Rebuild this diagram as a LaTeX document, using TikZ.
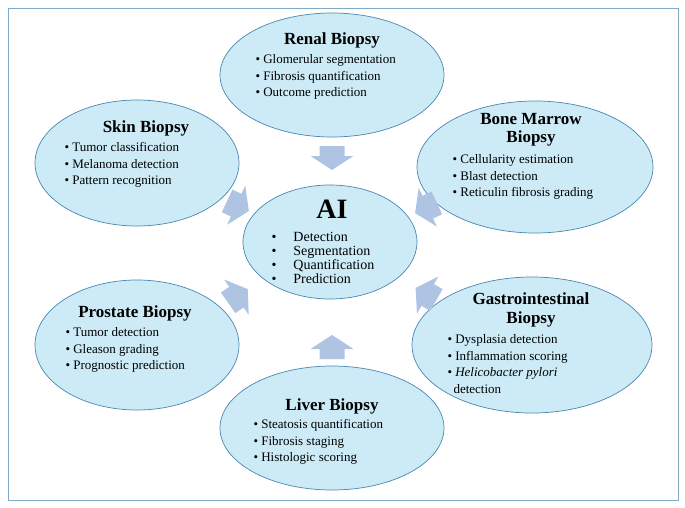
\documentclass[tikz,border=0pt]{standalone}
\usepackage{fontspec}
\setmainfont{Liberation Serif}
\definecolor{fillb}{HTML}{CCEBF7}
\definecolor{lineb}{HTML}{4A86B0}
\definecolor{arr}{HTML}{AFC4E2}
\begin{document}
\begin{tikzpicture}[x=1pt,y=-1pt,
 ell/.style={draw=lineb,fill=fillb,line width=0.7pt},
 ttl/.style={font=\bfseries\fontsize{17}{18.5}\selectfont,align=center},
 lst/.style={font=\fontsize{13}{16.5}\selectfont,align=left},
 bar/.pic={\fill[arr] (-12,-12.5) -- (-2,-12.5) -- (-2,-21.5) -- (12,0) -- (-2,21.5) -- (-2,12.5) -- (-12,12.5) -- cycle;}]
\useasboundingbox (0,0) rectangle (685,508);
\node[draw=lineb!70,line width=0.6pt,minimum width=670pt,minimum height=492pt,inner sep=0pt] (frame) at (343,254) {};
% ellipses
\draw[ell] (332,75) ellipse (112 and 62);
\draw[ell] (137,163) ellipse (102 and 63);
\draw[ell] (535,167) ellipse (118 and 66);
\draw[ell] (330,242) ellipse (87 and 57);
\draw[ell] (137,345) ellipse (102 and 65);
\draw[ell] (532,345) ellipse (120 and 68);
\draw[ell] (332,428) ellipse (112 and 62);
% arrows
\pic[rotate=-90] at (332,158) {bar};
\pic[rotate=90] at (332,347) {bar};
\pic[rotate=-25] at (238,206) {bar};
\pic[rotate=35] at (238,296) {bar};
\pic[rotate=-155] at (426,208) {bar};
\pic[rotate=150] at (426,294) {bar};
% texts
\node[ttl] (t1) at (332,40) {Renal Biopsy};
\node[lst,anchor=north west] (l1) at (252,51) {\textbullet{} Glomerular segmentation\\\textbullet{} Fibrosis quantification\\\textbullet{} Outcome prediction};
\node[ttl] (t2) at (146,128) {Skin Biopsy};
\node[lst,anchor=north west] (l2) at (61,139) {\textbullet{} Tumor classification\\\textbullet{} Melanoma detection\\\textbullet{} Pattern recognition};
\node[ttl] (t3) at (531,130) {Bone Marrow\\Biopsy};
\node[lst,anchor=north west] (l3) at (449,151) {\textbullet{} Cellularity estimation\\\textbullet{} Blast detection\\\textbullet{} Reticulin fibrosis grading};
\node[font=\bfseries\fontsize{28}{30}\selectfont] (ai) at (332,209) {AI};
\node[font=\fontsize{14}{14}\selectfont,anchor=north west,align=left] (lai) at (268,229) {\textbullet\hspace{17pt}Detection\\\textbullet\hspace{17pt}Segmentation\\\textbullet\hspace{17pt}Quantification\\\textbullet\hspace{17pt}Prediction};
\node[ttl] (t4) at (135,313) {Prostate Biopsy};
\node[lst,anchor=north west] (l4) at (62,324) {\textbullet{} Tumor detection\\\textbullet{} Gleason grading\\\textbullet{} Prognostic prediction};
\node[ttl] (t5) at (531,310) {Gastrointestinal\\Biopsy};
\node[lst,anchor=north west] (l5) at (444,331) {\textbullet{} Dysplasia detection\\\textbullet{} Inflammation scoring\\\textbullet{} \textit{Helicobacter pylori}\\\hspace{6pt}detection};
\node[ttl] (t6) at (332,406) {Liver Biopsy};
\node[lst,anchor=north west] (l6) at (250,416) {\textbullet{} Steatosis quantification\\\textbullet{} Fibrosis staging\\\textbullet{} Histologic scoring};
\end{tikzpicture}
\end{document}
